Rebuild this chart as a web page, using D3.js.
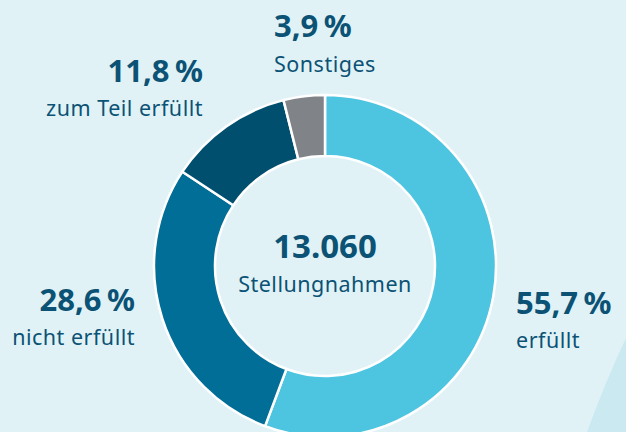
<!DOCTYPE html>
<html>
<head>
<meta charset="utf-8">
<script src="https://cdn.jsdelivr.net/npm/d3@7"></script>
<style>
  body { margin: 0; background: #e1f2f7; }
  svg { display: block; }
  .pct { font: 700 31px "Noto Sans", sans-serif; fill: #0b5275; word-spacing: -2.5px; }
  .big { font: 700 33px "Noto Sans", sans-serif; fill: #0b5275; }
  .lbl { font: 400 21.5px "Noto Sans", sans-serif; fill: #0b5275; letter-spacing: 0.5px; }
</style>
</head>
<body>
<div class="container"></div>
<script>
let categories = ["erfüllt", "nicht erfüllt", "zum Teil erfüllt", "Sonstiges"];
let shares = [55.7, 28.6, 11.8, 3.9];
let shareLabels = ["55,7 %", "28,6 %", "11,8 %", "3,9 %"];
let colors = ["#4dc5e0", "#006e96", "#004f6e", "#808388"];
let total = "13.060";
let totalLabel = "Stellungnahmen";

let width = 626, height = 432;
let cx = 325, cy = 266, outerR = 171, innerR = 110;

let svg = d3.select(".container").append("svg")
    .attr("width", width)
    .attr("height", height);

svg.append("rect")
    .attr("width", width)
    .attr("height", height)
    .attr("fill", "#e1f2f7");

// lighter swoosh in the lower right corner
svg.append("path")
    .attr("d", "M587,432 Q606,380 626,338 L626,432 Z")
    .attr("fill", "#cbe9f1");

let pie = d3.pie().sort(null).value(d => d);
let arc = d3.arc().innerRadius(innerR).outerRadius(outerR);

let ring = svg.append("g")
    .attr("transform", "translate(" + cx + "," + cy + ")");

ring.selectAll("path")
  .data(pie(shares))
  .enter().append("path")
    .attr("d", arc)
    .attr("fill", (d, i) => colors[i])
    .style("stroke", "#fff")
    .style("stroke-width", 2.5);

// centre text
ring.append("text")
    .text(total)
    .attr("class", "big")
    .attr("text-anchor", "middle")
    .attr("y", -8);
ring.append("text")
    .text(totalLabel)
    .attr("class", "lbl")
    .attr("text-anchor", "middle")
    .attr("y", 26);

// label positions: [x, baseline of percent, anchor]
let labelPos = [
  [516, 314, "start"],
  [135, 311, "end"],
  [203, 82, "end"],
  [274, 37, "start"]
];

let labels = svg.selectAll("g.label")
  .data(categories)
  .enter().append("g")
    .attr("class", "label")
    .attr("transform", (d, i) => "translate(" + labelPos[i][0] + "," + labelPos[i][1] + ")");

labels.append("text")
    .attr("class", "pct")
    .attr("text-anchor", (d, i) => labelPos[i][2])
    .text((d, i) => shareLabels[i]);

labels.append("text")
    .attr("class", "lbl")
    .attr("text-anchor", (d, i) => labelPos[i][2])
    .attr("y", (d, i) => i == 3 ? 35 : 34)
    .text(d => d);
</script>
</body>
</html>
